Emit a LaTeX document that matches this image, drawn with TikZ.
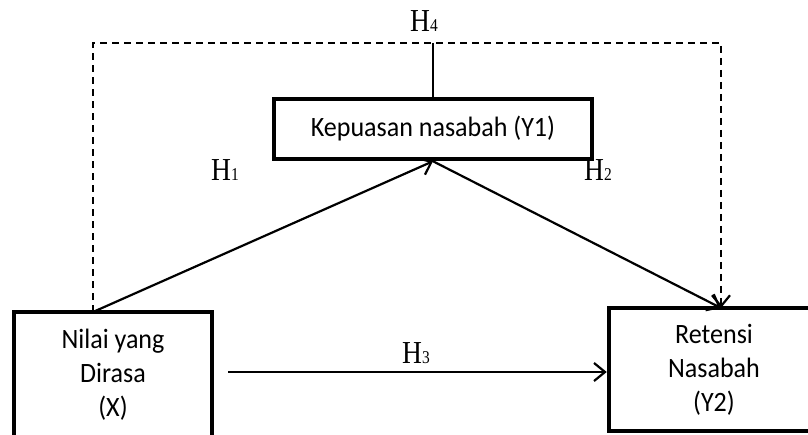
\documentclass[tikz,border=0pt]{standalone}
\usepackage{fontspec}
\newfontfamily\boxfont[FakeStretch=0.93]{Carlito}
\newfontfamily\hfont[FakeStretch=0.86]{Liberation Serif}
\usetikzlibrary{arrows.meta,calc}
\tikzset{
  varbox/.style={draw=black, line width=4.5pt, rectangle, inner sep=0pt, align=center,
    font=\boxfont\fontsize{28}{34}\selectfont},
  conn/.style={line width=2.2pt, -{Straight Barb[length=11pt,width=18pt,line width=2.2pt]}},
  dconn/.style={conn, dash pattern=on 7pt off 5pt},
  hlabel/.style={anchor=base west, inner sep=0pt, font=\hfont\fontsize{32}{32}\selectfont},
}
\newcommand{\hsub}[1]{{\fontsize{18}{18}\selectfont #1}}
\begin{document}
\begin{tikzpicture}[x=1pt,y=1pt]
\useasboundingbox (0,0) rectangle (808,434);
% boxes
\node[varbox, minimum width=318pt, minimum height=60pt] (Y1) at (433,305) {Kepuasan nasabah (Y1)};
\node[varbox, minimum width=198pt, minimum height=126pt] (X) at (113,59) {Nilai yang\\Dirasa\\(X)};
\node[varbox, minimum width=210pt, minimum height=123pt] (Y2) at (714,64.5) {Retensi\\Nasabah\\(Y2)};
% connection points
\coordinate (xs) at (93,122);
\coordinate (y2in) at (721,126);
\coordinate (tl) at (93,391);
\coordinate (tr) at (721,391);
\coordinate (tm) at (433,391);
\coordinate (h3s) at (228,62);
% connectors
\draw[conn] (xs) -- (Y1.south);
\draw[conn] (Y1.south) -- (y2in);
\draw[dconn] (xs) -- (tl) -- (tr) -- (y2in);
\draw[line width=1.6pt] (tm) -- (Y1.north);
\draw[conn] (h3s) -- (h3s -| Y2.west);
% labels
\node[hlabel] (h1) at (211,253) {H\hsub{1}};
\node[hlabel] (h2) at (584,253) {H\hsub{2}};
\node[hlabel] (h3) at (402,71) {H\hsub{3}};
\node[hlabel] (h4) at (410,402) {H\hsub{4}};
\end{tikzpicture}
\end{document}
